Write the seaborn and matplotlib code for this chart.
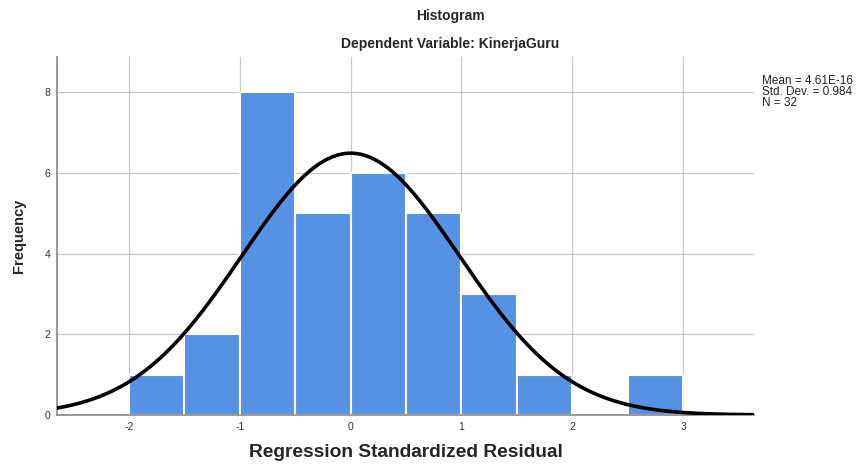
import numpy as np
import pandas as pd
import seaborn as sns
import matplotlib.pyplot as plt

# histogram bins (standardized residual) and frequencies
bin_edges = [-2.0, -1.5, -1.0, -0.5, 0.0, 0.5, 1.0, 1.5, 2.0, 2.5, 3.0]
counts    = [1, 2, 8, 5, 6, 5, 3, 1, 0, 1]

# summary stats shown on the chart
mean_val = 4.61e-16
std_val  = 0.984
n_val    = 32

sns.set_style('white')
plt.rcParams['font.family'] = ['Liberation Sans', 'DejaVu Sans']

df = pd.DataFrame({
    'resid': [(a + b) / 2 for a, b in zip(bin_edges[:-1], bin_edges[1:])],
    'freq': counts,
})

fig = plt.figure(figsize=(8.66, 4.70), dpi=100)
ax = fig.add_axes([57 / 866, 1 - 415 / 470, (754 - 57) / 866, (415 - 57) / 470])

sns.histplot(data=df, x='resid', weights='freq', bins=bin_edges, ax=ax,
             color='#5592e3', alpha=1, edgecolor='white', linewidth=1.5, zorder=2)

# fitted normal curve from the reported mean / sd / N
xs = np.linspace(-2.65, 3.64, 300)
width = bin_edges[1] - bin_edges[0]
ys = n_val * width * np.exp(-0.5 * ((xs - mean_val) / std_val) ** 2) / (std_val * np.sqrt(2 * np.pi))
sns.lineplot(x=xs, y=ys, ax=ax, color='black', linewidth=2.6, zorder=3)

ax.set_xlim(-2.65, 3.64)
ax.set_ylim(0, 8.87)
ax.set_xticks([-2, -1, 0, 1, 2, 3])
ax.set_xticklabels(['-2', '-1', '0', '1', '2', '3'])
ax.set_yticks([0, 2, 4, 6, 8])
ax.grid(True, color='#c8c8c8', linewidth=0.9, zorder=0)
ax.set_axisbelow(True)
ax.tick_params(axis='both', length=0, labelsize=7.5, colors='#333333', pad=5)
for s in ['top', 'right']:
    ax.spines[s].set_visible(False)
for s in ['left', 'bottom']:
    ax.spines[s].set_color('#888888')
    ax.spines[s].set_linewidth(1.2)

ax.set_xlabel('Regression Standardized Residual', fontsize=13.8, fontweight='bold', labelpad=9)
ax.set_ylabel('Frequency', fontsize=10.5, fontweight='bold', labelpad=13)

fig.text(450 / 866, 1 - 16 / 470, 'Histogram', ha='center', va='center',
         fontsize=10, fontweight='bold')
fig.text(450 / 866, 1 - 44 / 470, 'Dependent Variable: KinerjaGuru', ha='center', va='center',
         fontsize=10, fontweight='bold')
fig.text(762 / 866, 1 - 92 / 470,
         f'Mean = 4.61E-16\nStd. Dev. = {std_val}\nN = {n_val}',
         ha='left', va='center', fontsize=8.5, linespacing=0.92)

fig.savefig('out.png', dpi=100)
